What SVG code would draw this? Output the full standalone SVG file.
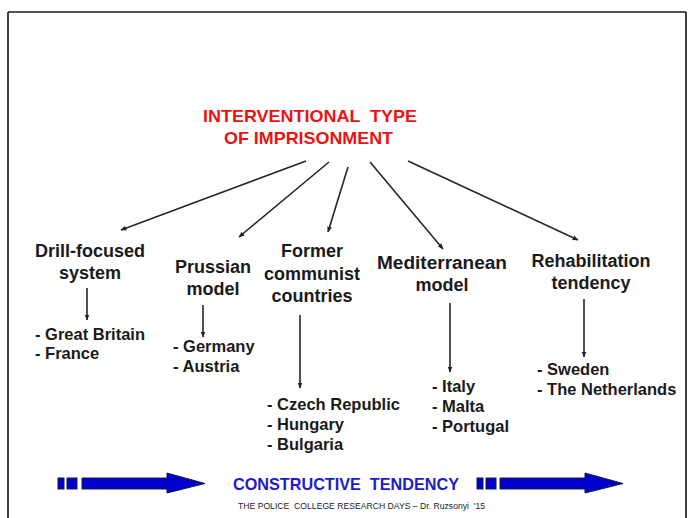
<svg xmlns="http://www.w3.org/2000/svg" width="690" height="518" viewBox="0 0 690 518">
<defs>
<marker id="ah" viewBox="0 0 10 10" refX="9" refY="5" markerWidth="6" markerHeight="6" markerUnits="userSpaceOnUse" orient="auto">
<path d="M0,1 L10,5 L0,9 z" fill="#222"/>
</marker>
</defs>
<style>
.t{font-family:"Liberation Sans",Arial,sans-serif;font-weight:bold;font-size:18px;fill:#1a1a1a;text-anchor:middle}
.l{font-family:"Liberation Sans",Arial,sans-serif;font-weight:bold;font-size:16.5px;fill:#1a1a1a}
.h{font-family:"Liberation Sans",Arial,sans-serif;font-weight:bold;font-size:17px;fill:#ee1111}
.c{stroke:#262626;stroke-width:1.6;fill:none;marker-end:url(#ah)}
.b{fill:#0000cc;stroke:#1a1a40;stroke-width:1}
</style>
<rect width="690" height="518" fill="#fff"/>
<g id="frame">
<line x1="8" y1="12" x2="686" y2="12" stroke="#555" stroke-width="2"/>
<line x1="8" y1="12" x2="8" y2="518" stroke="#111" stroke-width="1.6"/>
<line x1="686" y1="12" x2="686" y2="518" stroke="#111" stroke-width="1.6"/>
</g>
<g id="root">
<text class="h" x="203" y="122" textLength="214" lengthAdjust="spacingAndGlyphs" xml:space="preserve">INTERVENTIONAL  TYPE</text>
<text class="h" x="224" y="144" textLength="169" lengthAdjust="spacingAndGlyphs">OF IMPRISONMENT</text>
</g>
<g id="connectors">
<line class="c" x1="306" y1="161" x2="121" y2="230"/>
<line class="c" x1="329" y1="162" x2="239" y2="237"/>
<line class="c" x1="348" y1="167" x2="328" y2="232"/>
<line class="c" x1="370" y1="162" x2="443" y2="249"/>
<line class="c" x1="408" y1="161" x2="578" y2="240"/>
<line class="c" x1="87" y1="288" x2="87" y2="320"/>
<line class="c" x1="203" y1="305" x2="203" y2="337"/>
<line class="c" x1="300" y1="315" x2="300" y2="388"/>
<line class="c" x1="450" y1="303" x2="450" y2="372"/>
<line class="c" x1="584" y1="299" x2="584" y2="357"/>
</g>
<g id="drill">
<text class="t" x="90" y="257">Drill-focused</text>
<text class="t" x="90" y="279">system</text>
<text class="l" x="35" y="340">- Great Britain</text>
<text class="l" x="35" y="359">- France</text>
</g>
<g id="prussian">
<text class="t" x="213" y="273">Prussian</text>
<text class="t" x="213" y="295">model</text>
<text class="l" x="173" y="352">- Germany</text>
<text class="l" x="173" y="372">- Austria</text>
</g>
<g id="communist">
<text class="t" x="312" y="257">Former</text>
<text class="t" x="312" y="280">communist</text>
<text class="t" x="312" y="302">countries</text>
<text class="l" x="267" y="410">- Czech Republic</text>
<text class="l" x="267" y="430">- Hungary</text>
<text class="l" x="267" y="450">- Bulgaria</text>
</g>
<g id="mediterranean">
<text class="t" x="442" y="269" textLength="130" lengthAdjust="spacingAndGlyphs">Mediterranean</text>
<text class="t" x="442" y="291">model</text>
<text class="l" x="432" y="392">- Italy</text>
<text class="l" x="432" y="412">- Malta</text>
<text class="l" x="432" y="432">- Portugal</text>
</g>
<g id="rehab">
<text class="t" x="591" y="267">Rehabilitation</text>
<text class="t" x="591" y="289">tendency</text>
<text class="l" x="537" y="375">- Sweden</text>
<text class="l" x="537" y="395">- The Netherlands</text>
</g>
<g id="bottom">
<rect class="b" x="58" y="478" width="6" height="11"/>
<rect class="b" x="67" y="478" width="10" height="11"/>
<path class="b" d="M82,478 L167,478 L167,473 L205,483.5 L167,493 L167,489 L82,489 z"/>
<rect class="b" x="477" y="478" width="6" height="11"/>
<rect class="b" x="486" y="478" width="10" height="11"/>
<path class="b" d="M500,478 L585,478 L585,473 L623,483.5 L585,493 L585,489 L500,489 z"/>
<text x="233" y="490" textLength="226" lengthAdjust="spacingAndGlyphs" style="font-family:'Liberation Sans',Arial,sans-serif;font-weight:bold;font-size:17px;fill:#1c1ccc" xml:space="preserve">CONSTRUCTIVE  TENDENCY</text>
<text x="238" y="509" textLength="247" lengthAdjust="spacingAndGlyphs" style="font-family:'Liberation Sans',Arial,sans-serif;font-size:8.5px;fill:#222" xml:space="preserve">THE POLICE  COLLEGE RESEARCH DAYS – Dr. Ruzsonyi  '15</text>
</g>
</svg>
